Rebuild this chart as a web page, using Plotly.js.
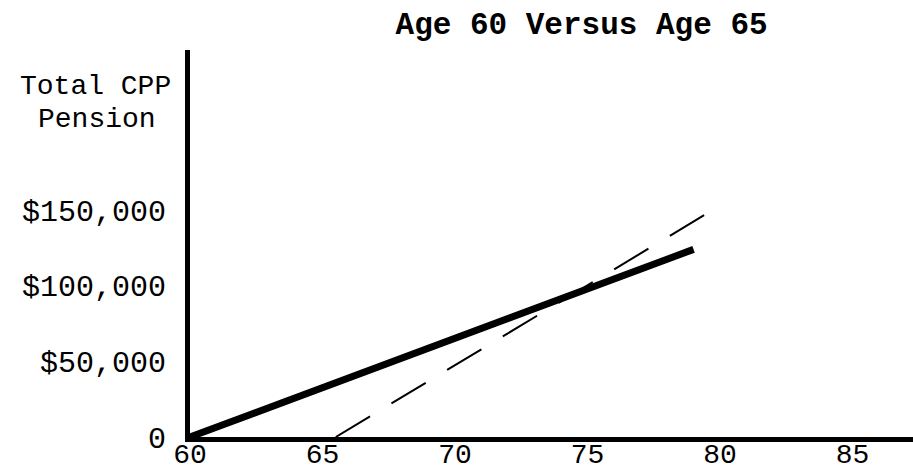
<!DOCTYPE html>
<html>
<head>
<meta charset="utf-8">
<script src="https://cdn.plot.ly/plotly-3.0.1.min.js"></script>
<style>html,body{margin:0;padding:0;background:#fff;}#chart{width:913px;height:471px;}</style>
</head>
<body>
<div id="chart"></div>
<script>
// Data
const ageAt60 = [60, 79];
const pensionAt60 = [0, 124000];
const ageAt65 = [65.5, 80];
const pensionAt65 = [0, 153000];
const xTicks = [60, 65, 70, 75, 80, 85];
const yTicks = [0, 50000, 100000, 150000];
const yTickText = ["0", "$50,000", "$100,000", "$150,000"];

const traces = [
  {x: ageAt60, y: pensionAt60, mode: 'lines', type: 'scatter',
   line: {color: '#000', width: 7}, hoverinfo: 'skip', name: 'Age 60'},
  {x: ageAt65, y: pensionAt65, mode: 'lines', type: 'scatter',
   line: {color: '#000', width: 2, dash: '40px,25px'}, hoverinfo: 'skip', name: 'Age 65'}
];

const mono = "'Liberation Mono', 'DejaVu Sans Mono', monospace";
const layout = {
  width: 913, height: 471,
  margin: {l: 190, r: 0, t: 50, b: 34, pad: 0},
  paper_bgcolor: '#fff', plot_bgcolor: '#fff',
  showlegend: false,
  title: {text: '<b>Age 60 Versus Age 65</b>', font: {family: mono, size: 31, color: '#000'},
          xref: 'container', yref: 'container', x: 0.637, y: 0.95, xanchor: 'center', yanchor: 'middle'},
  xaxis: {range: [60, 87.28], tickvals: xTicks, ticktext: xTicks.map(String),
          showline: true, linewidth: 5, linecolor: '#000', showgrid: false, zeroline: false,
          ticks: '', ticklabelstandoff: -13,
          tickfont: {family: mono, size: 28, color: '#000'}},
  yaxis: {range: [0, 255800], tickvals: yTicks, ticktext: yTickText,
          showline: true, linewidth: 5, linecolor: '#000', showgrid: false, zeroline: false,
          ticks: 'outside', ticklen: 13, tickcolor: 'rgba(0,0,0,0)',
          tickfont: {family: mono, size: 30, color: '#000'}},
  annotations: [
    {text: 'Total CPP', xref: 'paper', yref: 'paper', x: (96 - 190) / 723, y: (437 - 86) / 387,
     xanchor: 'center', yanchor: 'middle', showarrow: false,
     font: {family: mono, size: 28, color: '#000'}},
    {text: 'Pension', xref: 'paper', yref: 'paper', x: (97 - 190) / 723, y: (437 - 119) / 387,
     xanchor: 'center', yanchor: 'middle', showarrow: false,
     font: {family: mono, size: 28, color: '#000'}}
  ]
};
Plotly.newPlot('chart', traces, layout, {staticPlot: true, displayModeBar: false});
</script>
</body>
</html>
